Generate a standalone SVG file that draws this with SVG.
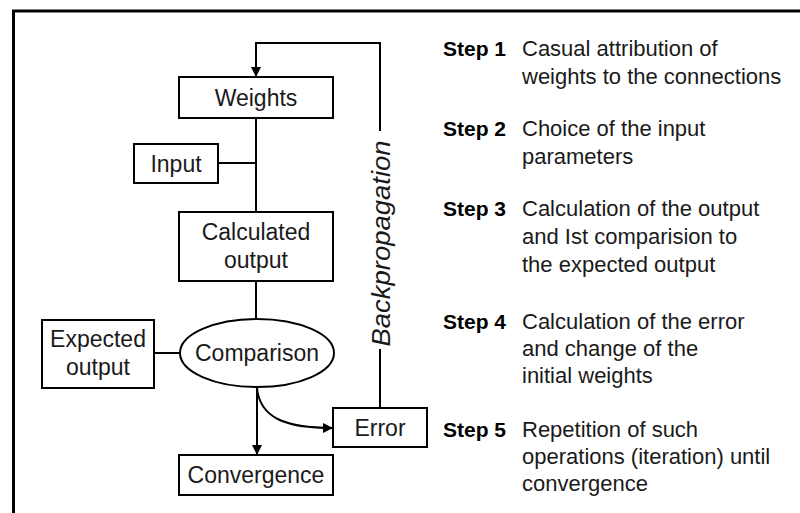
<svg xmlns="http://www.w3.org/2000/svg" width="800" height="513" viewBox="0 0 800 513">
<defs>
<style>
.box{fill:#fff;stroke:#000;stroke-width:2}
.ln{fill:none;stroke:#000;stroke-width:2}
.t{font-family:"Liberation Sans",Arial,sans-serif;font-size:23px;fill:#1a1a1a;text-anchor:middle}
.bp{font-family:"Liberation Sans",Arial,sans-serif;font-size:26px;font-style:italic;fill:#1a1a1a;text-anchor:middle}
.s{font-family:"Liberation Sans",Arial,sans-serif;font-size:22px;fill:#1a1a1a}
.sb{font-family:"Liberation Sans",Arial,sans-serif;font-size:21px;font-weight:bold;fill:#000}
</style>
<marker id="ah" viewBox="0 0 10 10" refX="10" refY="5" markerWidth="10" markerHeight="10" markerUnits="userSpaceOnUse" orient="auto">
<path d="M0,0 L10,5 L0,10 Z" fill="#000"/>
</marker>
</defs>
<rect width="800" height="513" fill="#fff"/>
<path d="M13.5,513 V11 H800" fill="none" stroke="#000" stroke-width="3"/>
<g id="connectors">
<path class="ln" d="M256,118 V212"/>
<path class="ln" d="M218,163 H256"/>
<path class="ln" d="M256,281 V319"/>
<path class="ln" d="M154,353 H180"/>
<path class="ln" d="M257,387 V455" marker-end="url(#ah)"/>
<path class="ln" d="M257,388 C260,418 285,428 333,428" marker-end="url(#ah)"/>
<path class="ln" d="M380,408 V349"/>
<path class="ln" d="M380,131 V43 H256 V77" marker-end="url(#ah)"/>
<text class="bp" transform="translate(390,243.5) rotate(-90)" textLength="206" lengthAdjust="spacingAndGlyphs">Backpropagation</text>
</g>
<g id="weights"><rect class="box" x="179" y="77" width="154" height="41"/><text class="t" x="256" y="106">Weights</text></g>
<g id="input"><rect class="box" x="134" y="144" width="84" height="39"/><text class="t" x="176" y="172">Input</text></g>
<g id="calculated"><rect class="box" x="179" y="212" width="154" height="69"/><text class="t" x="256" y="240">Calculated</text><text class="t" x="256" y="268">output</text></g>
<g id="expected"><rect class="box" x="42" y="320" width="112" height="68"/><text class="t" x="98" y="347">Expected</text><text class="t" x="98" y="375">output</text></g>
<g id="comparison"><ellipse class="box" cx="257" cy="353" rx="77" ry="34"/><text class="t" x="257" y="361">Comparison</text></g>
<g id="error"><rect class="box" x="333" y="408" width="94" height="39"/><text class="t" x="380" y="436">Error</text></g>
<g id="convergence"><rect class="box" x="179" y="455" width="154" height="40"/><text class="t" x="256" y="483">Convergence</text></g>
<g id="steps">
<text class="sb" x="443" y="56">Step 1</text>
<text class="s" x="522" y="56">Casual attribution of</text>
<text class="s" x="522" y="84">weights to the connections</text>
<text class="sb" x="443" y="136">Step 2</text>
<text class="s" x="522" y="136">Choice of the input</text>
<text class="s" x="522" y="164">parameters</text>
<text class="sb" x="443" y="216">Step 3</text>
<text class="s" x="522" y="216">Calculation of the output</text>
<text class="s" x="522" y="244">and Ist comparision to</text>
<text class="s" x="522" y="272">the expected output</text>
<text class="sb" x="443" y="329">Step 4</text>
<text class="s" x="522" y="329">Calculation of the error</text>
<text class="s" x="522" y="356">and change of the</text>
<text class="s" x="522" y="383">initial weights</text>
<text class="sb" x="443" y="437">Step 5</text>
<text class="s" x="522" y="437">Repetition of such</text>
<text class="s" x="522" y="464">operations (iteration) until</text>
<text class="s" x="522" y="491">convergence</text>
</g>
</svg>
